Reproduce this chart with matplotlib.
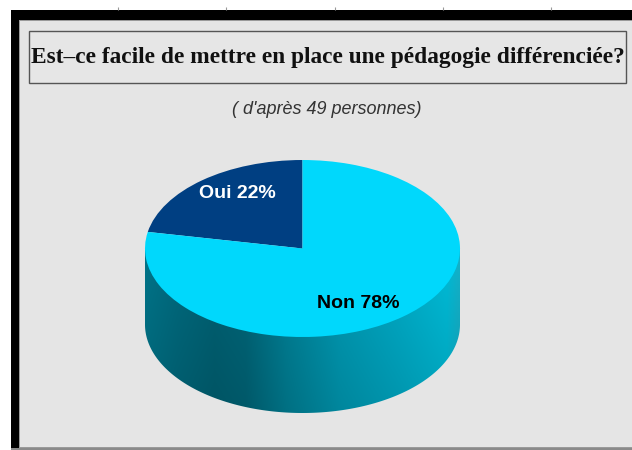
import numpy as np
import matplotlib
matplotlib.use("Agg")
import matplotlib.pyplot as plt
from matplotlib.colors import LinearSegmentedColormap
from matplotlib.patches import Rectangle, Polygon

categories = ["Oui", "Non"]
values = [22, 78]
slice_colors = ["#003f82", "#00d8fc"]
label_colors = ["white", "black"]
label_xy = [(237, 194), (358, 304)]
title = "Est\u2013ce facile de mettre en place une pédagogie différenciée?"
subtitle = "( d'après 49 personnes)"

W, H = 632, 450
fig = plt.figure(figsize=(W / 100, H / 100), dpi=100, facecolor="white")
bg = fig.add_axes([0, 0, 1, 1])
bg.axis("off")

# frame and panel
bg.add_patch(Rectangle((11, 10), W - 11, H - 10, fc="black", ec="none"))
bg.add_patch(Rectangle((19, 20), W - 19, 428, fc="#9a9a9a", ec="none"))
bg.add_patch(Rectangle((20, 21), W - 20, 426, fc="#e5e5e5", ec="none"))
bg.add_patch(Rectangle((11, 448), W - 11, 2, fc="#8a8a8a", ec="none"))
bg.vlines([118, 226, 335, 443, 551], 7, 10, color="#999999", lw=0.8)

# title box
bg.add_patch(Rectangle((29, 31), 597, 52, fc="#e6e6e6", ec="#555555", lw=1.0))
bg.text(327.5, 58, title, ha="center", va="center", fontsize=16.8,
        fontweight="bold", family="Liberation Serif", color="#111111")
bg.text(326.5, 109, subtitle, ha="center", va="center", fontsize=13,
        style="italic", family="Liberation Sans", color="#333333")

# side wall of the cylinder
cx, cy, a, b, depth = 302.5, 248.5, 157.5, 88.5, 76
cmap = LinearSegmentedColormap.from_list("wall", [
    (0.00, "#007489"), (0.10, "#006a7e"), (0.22, "#006274"), (0.32, "#00677a"),
    (0.45, "#008298"), (0.62, "#009cb6"), (0.80, "#00acc8"), (0.96, "#00bcd8"), (1.00, "#14b2ca")])
shade = np.linspace(1.0, 0.86, 128)[:, None, None]
wall = cmap(np.linspace(0, 1, 256))[None, :, :3] * shade
im = bg.imshow(wall, extent=(cx - a, cx + a, cy + depth + b, cy), aspect="auto", zorder=2)
bg.set_xlim(0, W)
bg.set_ylim(H, 0)
t = np.linspace(0, np.pi, 200)
outline = np.r_[np.c_[cx + a * np.cos(t), cy + depth + b * np.sin(t)], [[cx - a, cy]], [[cx + a, cy]]]
clip = Polygon(outline, closed=True, transform=bg.transData, fc="none", ec="none")
bg.add_patch(clip)
im.set_clip_path(clip)

# top surface
pie_ax = fig.add_axes([(cx - a) / W, 1 - (cy + b) / H, 2 * a / W, 2 * b / H])
pie_ax.patch.set_alpha(0)
pie_ax.pie(values, colors=slice_colors, startangle=90, counterclock=True,
           radius=1, wedgeprops={"linewidth": 0})
pie_ax.set_aspect("auto")
pie_ax.set_xlim(-1, 1)
pie_ax.set_ylim(-1, 1)

for name, v, c, (x, y) in zip(categories, values, label_colors, label_xy):
    fig.text(x / W, 1 - y / H, f"{name} {v}%", ha="center", va="center", fontsize=14,
             fontweight="bold", family="Liberation Sans", color=c, zorder=10)

fig.savefig("out.png", dpi=100, facecolor="white")
